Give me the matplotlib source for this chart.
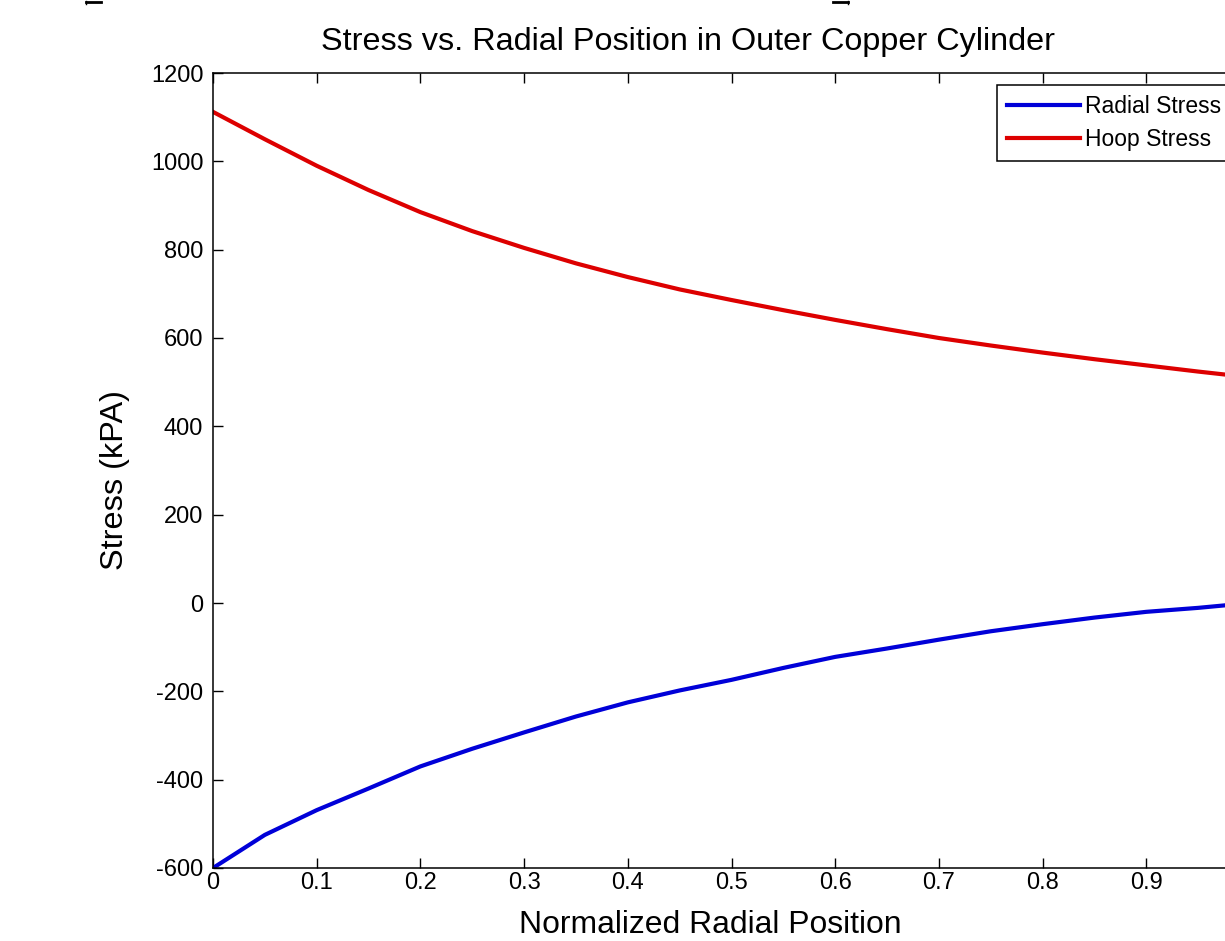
import matplotlib
matplotlib.use("Agg")
import matplotlib.pyplot as plt
from matplotlib.lines import Line2D

# ---- data ----
position = [0.00, 0.05, 0.10, 0.15, 0.20, 0.25, 0.30, 0.35, 0.40, 0.45, 0.50,
            0.55, 0.60, 0.65, 0.70, 0.75, 0.80, 0.85, 0.90, 0.95, 1.00]
hoop_stress = [1112, 1050, 990, 935, 885, 842, 804, 769, 738, 710, 686,
               663, 641, 620, 600, 583, 567, 552, 538, 524, 511]
radial_stress = [-600, -525, -469, -420, -370, -330, -293, -257, -225, -198, -174,
                 -147, -122, -103, -83, -64, -48, -33, -20, -11, 0]
x_ticks = [0.0, 0.1, 0.2, 0.3, 0.4, 0.5, 0.6, 0.7, 0.8, 0.9]
x_tick_labels = ["0", "0.1", "0.2", "0.3", "0.4", "0.5", "0.6", "0.7", "0.8", "0.9"]
y_ticks = [-600, -400, -200, 0, 200, 400, 600, 800, 1000, 1200]
y_tick_labels = [str(v) for v in y_ticks]
title = "Stress vs. Radial Position in Outer Copper Cylinder"
x_label = "Normalized Radial Position"
y_label = "Stress (kPA)"
series_labels = ["Radial Stress", "Hoop Stress"]

plt.rcParams['font.family'] = ['Liberation Sans', 'DejaVu Sans']

W, H = 1225, 941
fig = plt.figure(figsize=(W / 100, H / 100), dpi=100)
fig.patch.set_facecolor('white')

ax = fig.add_axes([213 / W, (H - 868) / H, (1250 - 213) / W, (868 - 73) / H])
ax.plot(position, radial_stress, color='#0000d8', lw=3.0, label=series_labels[0])
ax.plot(position, hoop_stress, color='#dd0000', lw=3.0, label=series_labels[1])

ax.set_xlim(0, 1)
ax.set_ylim(-600, 1200)
ax.set_xticks(x_ticks)
ax.set_xticklabels(x_tick_labels)
ax.set_yticks(y_ticks)
ax.set_yticklabels(y_tick_labels)
ax.tick_params(direction='in', length=7, width=1.0, top=True, right=True,
               labelsize=17, colors='black')
ax.tick_params(axis='x', pad=3)
ax.tick_params(axis='y', pad=7)
for s in ax.spines.values():
    s.set_linewidth(1.1)
    s.set_color('black')

leg = ax.legend(loc='upper left', bbox_to_anchor=(997 / W, 1 - 85 / H),
                bbox_transform=fig.transFigure, borderaxespad=0,
                fancybox=False, shadow=False, framealpha=1, edgecolor='black',
                fontsize=16.5, handlelength=3.2, handletextpad=0.2,
                labelspacing=0.45, borderpad=0.42)
leg.get_frame().set_linewidth(1.1)

t_title = fig.text(688 / W, 1 - 42 / H, title, ha='center', va='center', fontsize=20)
t_xl = fig.text(710 / W, 1 - 925 / H, x_label, ha='center', va='center', fontsize=20)
t_yl = fig.text(115 / W, 1 - 480 / H, y_label, ha='center', va='center',
                rotation=90, fontsize=20)

# fit label widths to the reference
fig.canvas.draw()
for t, target, horiz in [(t_title, 733, True), (t_xl, 382, True), (t_yl, 180, False)]:
    bb = t.get_window_extent()
    size = bb.width if horiz else bb.height
    t.set_fontsize(t.get_fontsize() * target / size)

# small cropped marks at the top edge
for x0, x1, xv in [(86, 101, 86), (833, 848, 848)]:
    fig.add_artist(Line2D([x0 / W, x1 / W], [1 - 2 / H, 1 - 2 / H], color='black', lw=2.0))
    fig.add_artist(Line2D([xv / W, xv / W], [1 - 1 / H, 1 - 4 / H], color='black', lw=1.0))

fig.savefig("out.png", dpi=100, facecolor='white')
